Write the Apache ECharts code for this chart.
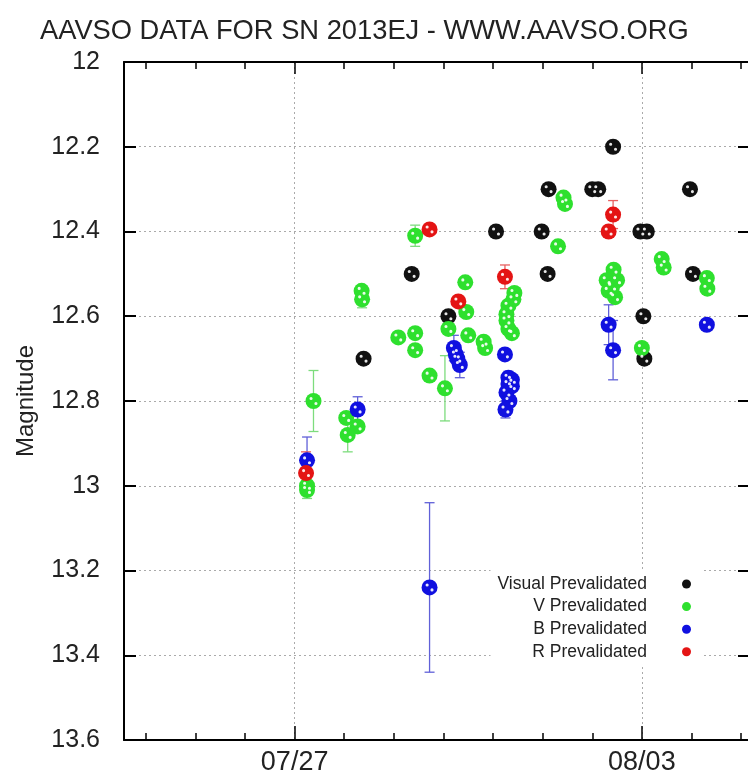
<!DOCTYPE html>
<html>
<head>
<meta charset="utf-8">
<script src="https://cdn.jsdelivr.net/npm/echarts@6/dist/echarts.min.js"></script>
<style>
  html, body { margin: 0; padding: 0; background: #fff; }
  #chart { width: 748px; height: 778px; }
</style>
</head>
<body>
<div id="chart"></div>
<script>
// x values are day of year 2013 (07/27 = 208), y values are magnitudes
const visualDay = [209.39, 210.36, 211.10, 212.06, 212.98, 213.10, 213.12, 214.00, 214.12, 214.42, 214.97, 215.10, 215.03, 215.05, 215.97, 216.03];
const visualMag = [12.70, 12.50, 12.60, 12.40, 12.40, 12.50, 12.30, 12.30, 12.30, 12.20, 12.40, 12.40, 12.60, 12.70, 12.30, 12.50];

const vDay = [208.25, 208.25, 208.38, 209.04, 209.27, 209.07, 209.35, 209.36, 210.09, 210.43, 210.43, 210.43,
  210.72, 211.03, 211.10, 211.44, 211.46, 211.50, 211.81, 211.84, 212.43, 212.41, 212.31, 212.27, 212.27,
  212.31, 212.38, 213.31, 213.42, 213.45, 214.43, 214.29, 214.50, 214.40, 214.33, 214.46, 215.00, 215.40,
  215.44, 216.31, 216.32];
const vMag = [13.00, 13.01, 12.80, 12.84, 12.86, 12.88, 12.54, 12.56, 12.65, 12.64, 12.68, 12.41,
  12.74, 12.77, 12.63, 12.52, 12.59, 12.645, 12.66, 12.675, 12.545, 12.56, 12.575, 12.595, 12.61,
  12.63, 12.64, 12.435, 12.32, 12.335, 12.49, 12.515, 12.515, 12.53, 12.54, 12.555, 12.675, 12.465,
  12.485, 12.51, 12.535];
const vErr = [0.03, 0, 0.072, 0, 0, 0.04, 0, 0.02, 0, 0, 0, 0.025,
  0, 0.077, 0, 0, 0, 0, 0, 0, 0, 0, 0, 0, 0,
  0, 0, 0, 0, 0, 0, 0, 0, 0, 0, 0, 0, 0,
  0, 0, 0];

const bDay = [208.25, 209.27, 210.72, 211.21, 211.25, 211.28, 211.33, 212.24, 212.31, 212.38, 212.27, 212.33, 212.25, 212.38, 212.31, 214.33, 214.42, 216.31];
const bMag = [12.94, 12.82, 13.24, 12.675, 12.69, 12.70, 12.715, 12.69, 12.745, 12.765, 12.78, 12.80, 12.82, 12.75, 12.76, 12.62, 12.68, 12.62];
const bErr = [0.055, 0.03, 0.2, 0.03, 0, 0, 0.03, 0, 0.015, 0, 0, 0, 0.02, 0, 0, 0.047, 0.07, 0];

const rDay = [208.23, 210.72, 211.30, 212.24, 214.42, 214.33];
const rMag = [12.97, 12.395, 12.565, 12.507, 12.36, 12.40];
const rErr = [0.05, 0, 0, 0.028, 0.033, 0];

const dayTicks = [205, 206, 207, 208, 209, 210, 211, 212, 213, 214, 215, 216, 217];
const labelDays = [208, 215];
const labelText = ['07/27', '08/03'];

const FONT = 'Liberation Sans';
const xMin = 204.56, xMax = 217.18;

function pts(days, mags) {
  return days.map((d, i) => [d, mags[i]]);
}
function errs(days, mags, es) {
  return days.map((d, i) => [d, mags[i], es[i]]).filter(r => r[2] > 0);
}
function errBar(color) {
  return function (params, api) {
    const x = api.value(0), m = api.value(1), e = api.value(2);
    const a = api.coord([x, m - e]);
    const b = api.coord([x, m + e]);
    const w = 5;
    const style = { stroke: color, lineWidth: 1.3 };
    return {
      type: 'group',
      children: [
        { type: 'line', shape: { x1: a[0], y1: a[1], x2: b[0], y2: b[1] }, style },
        { type: 'line', shape: { x1: a[0] - w, y1: a[1], x2: a[0] + w, y2: a[1] }, style },
        { type: 'line', shape: { x1: b[0] - w, y1: b[1], x2: b[0] + w, y2: b[1] }, style }
      ]
    };
  };
}

const colors = { visual: '#111111', v: '#2ee02e', b: '#1010e0', r: '#e41414' };
const names = ['Visual Prevalidated', 'V Prevalidated', 'B Prevalidated', 'R Prevalidated'];

const allDay = visualDay.concat(vDay, bDay, rDay);
const allMag = visualMag.concat(vMag, bMag, rMag);

function xAx(pos, ticks, len, extra) {
  return Object.assign({
    type: 'value', min: xMin, max: xMax, position: pos,
    axisLine: { show: true, onZero: false, lineStyle: { color: '#000', width: 2 } },
    axisTick: { show: true, inside: true, length: len, customValues: ticks, lineStyle: { color: '#000', width: 1.5 } },
    axisLabel: { show: false },
    splitLine: { show: false }
  }, extra || {});
}

const chart = echarts.init(document.getElementById('chart'), null, { renderer: 'canvas' });
chart.setOption({
  animation: false,
  backgroundColor: '#fff',
  title: {
    text: 'AAVSO DATA FOR SN 2013EJ - WWW.AAVSO.ORG',
    left: 35, top: 13,
    textStyle: { fontFamily: FONT, fontSize: 27.3, fontWeight: 'normal', color: '#222' }
  },
  grid: { left: 124, top: 62, right: -2, bottom: 38, outerBoundsMode: 'none', containLabel: false },
  legend: {
    data: names,
    orient: 'vertical', align: 'right', right: 45, top: 570,
    itemWidth: 9, itemHeight: 9, itemGap: 4.6, icon: 'circle',
    backgroundColor: '#fff', padding: [5, 12, 4, 7],
    textStyle: { fontFamily: FONT, fontSize: 17.5, color: '#222', padding: [0, 30, 0, 0] }
  },
  xAxis: [
    xAx('bottom', dayTicks, 7, {
      axisLabel: {
        show: true, customValues: labelDays, margin: 9,
        formatter: v => labelText[labelDays.indexOf(v)] || '',
        fontFamily: FONT, fontSize: 27, color: '#222'
      }
    }),
    xAx('bottom', labelDays, 14, {
      axisLine: { show: false },
      splitLine: { show: true, lineStyle: { color: '#aaa', width: 1, type: [2, 3] } }
    }),
    xAx('top', dayTicks, 7),
    xAx('top', labelDays, 12, { axisLine: { show: false } })
  ],
  yAxis: [
    {
      type: 'value', inverse: true, min: 12, max: 13.6, interval: 0.2, position: 'left',
      name: 'Magnitude', nameLocation: 'middle', nameGap: 86,
      nameTextStyle: { fontFamily: FONT, fontSize: 24, color: '#222' },
      axisLine: { show: true, onZero: false, lineStyle: { color: '#000', width: 2 } },
      axisTick: { show: true, inside: true, length: 12, lineStyle: { color: '#000', width: 2 } },
      axisLabel: { fontFamily: FONT, fontSize: 25, color: '#222', margin: 24 },
      splitLine: { show: true, lineStyle: { color: '#aaa', width: 1, type: [2, 3] } }
    },
    {
      type: 'value', inverse: true, min: 12, max: 13.6, interval: 0.2, position: 'right',
      axisLine: { show: true, onZero: false, lineStyle: { color: '#000', width: 2 } },
      axisTick: { show: true, inside: true, length: 12, lineStyle: { color: '#000', width: 2 } },
      axisLabel: { show: false },
      splitLine: { show: false }
    }
  ],
  series: [
    { type: 'custom', name: 'verr', data: errs(vDay, vMag, vErr), renderItem: errBar('#7ddc7d'), encode: { x: 0, y: 1 }, z: 1, silent: true },
    { type: 'custom', name: 'berr', data: errs(bDay, bMag, bErr), renderItem: errBar('#6060d8'), encode: { x: 0, y: 1 }, z: 1, silent: true },
    { type: 'custom', name: 'rerr', data: errs(rDay, rMag, rErr), renderItem: errBar('#e86060'), encode: { x: 0, y: 1 }, z: 1, silent: true },
    { type: 'scatter', name: names[0], data: pts(visualDay, visualMag), symbol: 'circle', symbolSize: 16, itemStyle: { color: colors.visual, opacity: 1 }, z: 2 },
    { type: 'scatter', name: names[1], data: pts(vDay, vMag), symbol: 'circle', symbolSize: 16, itemStyle: { color: colors.v, opacity: 1 }, z: 2 },
    { type: 'scatter', name: names[2], data: pts(bDay, bMag), symbol: 'circle', symbolSize: 16, itemStyle: { color: colors.b, opacity: 1 }, z: 2 },
    { type: 'scatter', name: names[3], data: pts(rDay, rMag), symbol: 'circle', symbolSize: 16, itemStyle: { color: colors.r, opacity: 1 }, z: 2 },
    {
      type: 'scatter', name: 'shine', data: pts(allDay, allMag), silent: true, z: 3,
      symbol: 'path://M2,3a1.6,1.6 0 1,0 3.2,0a1.6,1.6 0 1,0 -3.2,0ZM7,8a1.6,1.6 0 1,0 3.2,0a1.6,1.6 0 1,0 -3.2,0Z',
      symbolSize: 8, itemStyle: { color: '#fff', opacity: 0.9 }
    }
  ]
});
</script>
</body>
</html>
